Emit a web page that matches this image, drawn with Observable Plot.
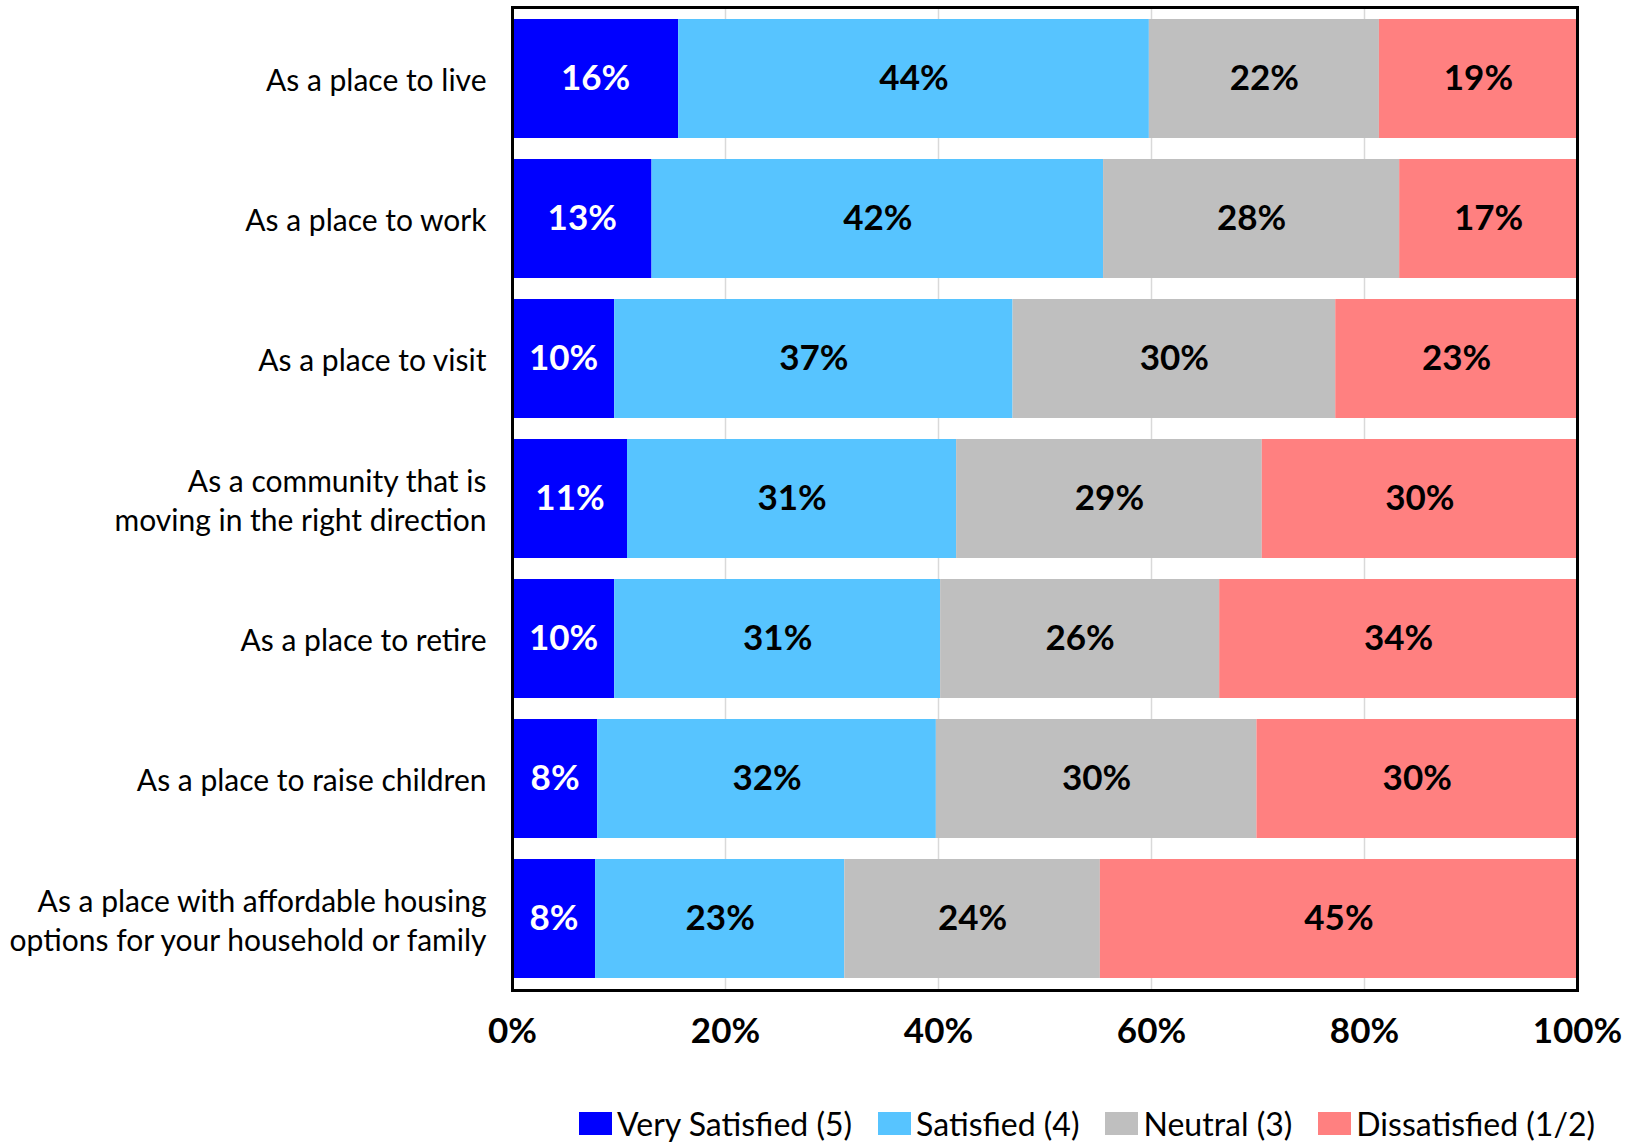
<!DOCTYPE html>
<html>
<head>
<meta charset="utf-8">
<script src="https://cdn.jsdelivr.net/npm/d3@7"></script>
<script src="https://cdn.jsdelivr.net/npm/@observablehq/plot@0.6"></script>
<style>
  html, body { margin: 0; padding: 0; background: #fff; }
  #legend { display: flex; align-items: center; margin-left: 579px; margin-top: 34px;
    font-family: Lato, "Open Sans", sans-serif; font-size: 32px; color: #000; }
  #legend .item { display: flex; align-items: center; margin-right: 26px; }
  #legend .sw { width: 33px; height: 23px; margin-right: 5px; }
</style>
</head>
<body>
<div id="chart"></div>
<div id="legend"></div>
<script>
const categories = [
  "As a place to live",
  "As a place to work",
  "As a place to visit",
  "As a community that is\nmoving in the right direction",
  "As a place to retire",
  "As a place to raise children",
  "As a place with affordable housing\noptions for your household or family"
];
const levels = ["Very Satisfied (5)", "Satisfied (4)", "Neutral (3)", "Dissatisfied (1/2)"];
const colors = ["#0000FF", "#57C4FF", "#BFBFBF", "#FF8080"];
const verySatisfied = [15.6, 13.1, 9.6, 10.8, 9.6, 8.0, 7.8];
const satisfied     = [44.2, 42.4, 37.4, 30.9, 30.6, 31.8, 23.4];
const neutral       = [21.6, 27.8, 30.3, 28.7, 26.2, 30.1, 24.0];
const dissatisfied  = [18.6, 16.7, 22.7, 29.6, 33.6, 30.1, 44.8];
const xTicks = [0, 20, 40, 60, 80, 100];
const gridTicks = [20, 40, 60, 80];

const series = [verySatisfied, satisfied, neutral, dissatisfied];
const data = [];
categories.forEach((c, i) => {
  levels.forEach((l, j) => data.push({category: c, level: l, value: series[j][i]}));
});
const fmt = v => Math.round(v) + "%";

const chart = Plot.plot({
  width: 1636,
  height: 1070,
  marginLeft: 512,
  marginRight: 59,
  marginTop: 7,
  marginBottom: 80,
  style: {fontFamily: "Lato, 'Open Sans', sans-serif", color: "#000", background: "#fff"},
  x: {domain: [0, 100], ticks: xTicks},
  y: {domain: categories, paddingInner: 0.15, paddingOuter: 0.075},
  color: {domain: levels, range: colors},
  marks: [
    Plot.ruleX(gridTicks, {stroke: "#D9D9D9", strokeWidth: 1.5}),
    Plot.barX(data, Plot.stackX({x: "value", y: "category", fill: "level", z: "level"})),
    Plot.text(data, Plot.stackX({x: "value", y: "category", z: "level",
      text: d => d.level === levels[0] ? fmt(d.value) : null,
      fill: "white", fontSize: 35, fontWeight: "bold"})),
    Plot.text(data, Plot.stackX({x: "value", y: "category", z: "level",
      text: d => d.level !== levels[0] ? fmt(d.value) : null,
      fill: "black", fontSize: 35, fontWeight: "bold"})),
    Plot.frame({stroke: "black", strokeWidth: 3}),
    Plot.axisX({ticks: xTicks, tickSize: 0, tickPadding: 28, tickFormat: d => d + "%",
      fontSize: 35, fontWeight: "bold", fill: "black", label: null}),
    Plot.axisY({tickSize: 0, tickPadding: 26, fontSize: 30, lineHeight: 1.29,
      fill: "black", label: null})
  ]
});
document.getElementById("chart").appendChild(chart);

const legend = document.getElementById("legend");
levels.forEach((l, j) => {
  const item = document.createElement("div");
  item.className = "item";
  const sw = document.createElement("div");
  sw.className = "sw";
  sw.style.background = colors[j];
  const t = document.createElement("span");
  t.textContent = l;
  item.appendChild(sw);
  item.appendChild(t);
  legend.appendChild(item);
});
</script>
</body>
</html>
